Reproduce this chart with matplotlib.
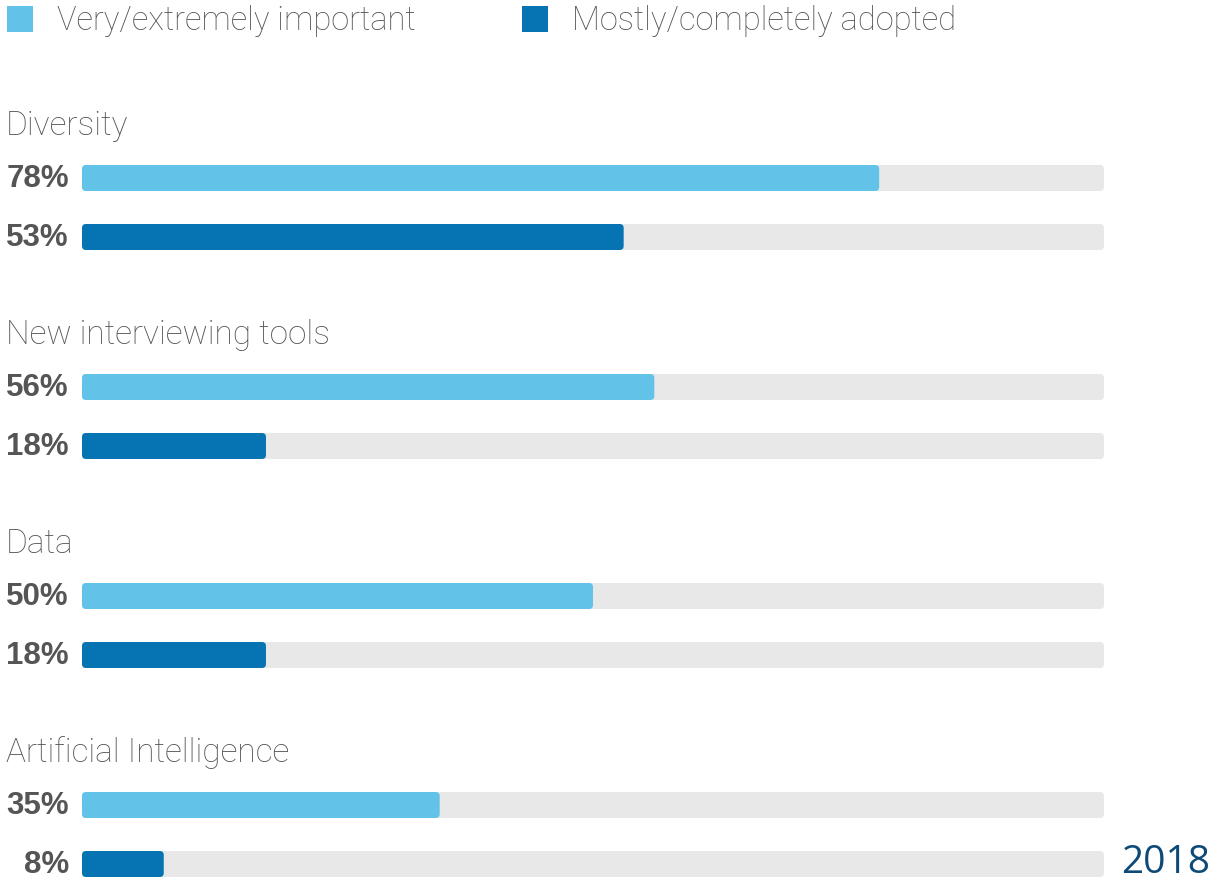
import matplotlib.pyplot as plt
from matplotlib.patches import FancyBboxPatch, Rectangle

CATEGORIES = ['Diversity', 'New interviewing tools', 'Data', 'Artificial Intelligence']
IMPORTANT = [78, 56, 50, 35]
ADOPTED = [53, 18, 18, 8]
SERIES_NAMES = ['Very/extremely important', 'Mostly/completely adopted']
YEAR_LABEL = '2018'

LIGHT_BLUE = '#63c2e8'
DARK_BLUE = '#0673b2'
TRACK = '#e8e8e8'
TEXT_GREY = '#555555'
YEAR_COLOR = '#0d4a78'

W, H = 1215, 881
BAR_LEFT, BAR_RIGHT = 82, 1104
PX_PER_UNIT = (BAR_RIGHT - BAR_LEFT) / 100.0
FIRST_ROW = 178
GROUP_STEP = 209
ROW_STEP = 59
BAR_H = 26
RADIUS_PX = 4


def rounded_bar(ax, x0, width, y_center, color):
    r = RADIUS_PX / PX_PER_UNIT
    patch = FancyBboxPatch((x0, y_center - BAR_H / 2), width, BAR_H,
                           boxstyle=f'round,pad=0,rounding_size={r}',
                           mutation_aspect=PX_PER_UNIT,
                           linewidth=0, facecolor=color, clip_on=False)
    ax.add_patch(patch)


fig = plt.figure(figsize=(W / 100, H / 100), dpi=100)
ax = fig.add_axes([BAR_LEFT / W, 0, (BAR_RIGHT - BAR_LEFT) / W, 1])
ax.set_xlim(0, 100)
ax.set_ylim(H, 0)
ax.axis('off')

title_font = dict(family=['Roboto', 'DejaVu Sans'], weight='light')
value_font = dict(family=['Liberation Sans', 'DejaVu Sans'], weight='bold')

for i, cat in enumerate(CATEGORIES):
    y0 = FIRST_ROW + GROUP_STEP * i
    ax.text((6 - BAR_LEFT) / PX_PER_UNIT, y0 - 43, cat, ha='left', va='baseline',
            fontsize=24, color=TEXT_GREY, **title_font)
    for j, (vals, color) in enumerate([(IMPORTANT, LIGHT_BLUE), (ADOPTED, DARK_BLUE)]):
        yc = y0 + ROW_STEP * j
        rounded_bar(ax, 0, 100, yc, TRACK)
        rounded_bar(ax, 0, vals[i], yc, color)
        ax.text((69 - BAR_LEFT) / PX_PER_UNIT, yc + 1, f'{vals[i]}%', ha='right', va='center',
                fontsize=22.5, color=TEXT_GREY, **value_font)

# legend
for name, color, xs, xt in [(SERIES_NAMES[0], LIGHT_BLUE, 7, 57), (SERIES_NAMES[1], DARK_BLUE, 522, 572)]:
    fig.patches.append(Rectangle((xs / W, 1 - 32 / H), 26 / W, 26 / H, transform=fig.transFigure,
                                 facecolor=color, edgecolor='none'))
    fig.text(xt / W, 1 - 30 / H, name, ha='left', va='baseline', fontsize=23.5,
             color=TEXT_GREY, **title_font)

fig.text(1210 / W, 1 - 873 / H, YEAR_LABEL, ha='right', va='baseline', fontsize=28,
         color=YEAR_COLOR, family=['Open Sans', 'DejaVu Sans'])

fig.savefig('out.png', dpi=100, facecolor='white')
